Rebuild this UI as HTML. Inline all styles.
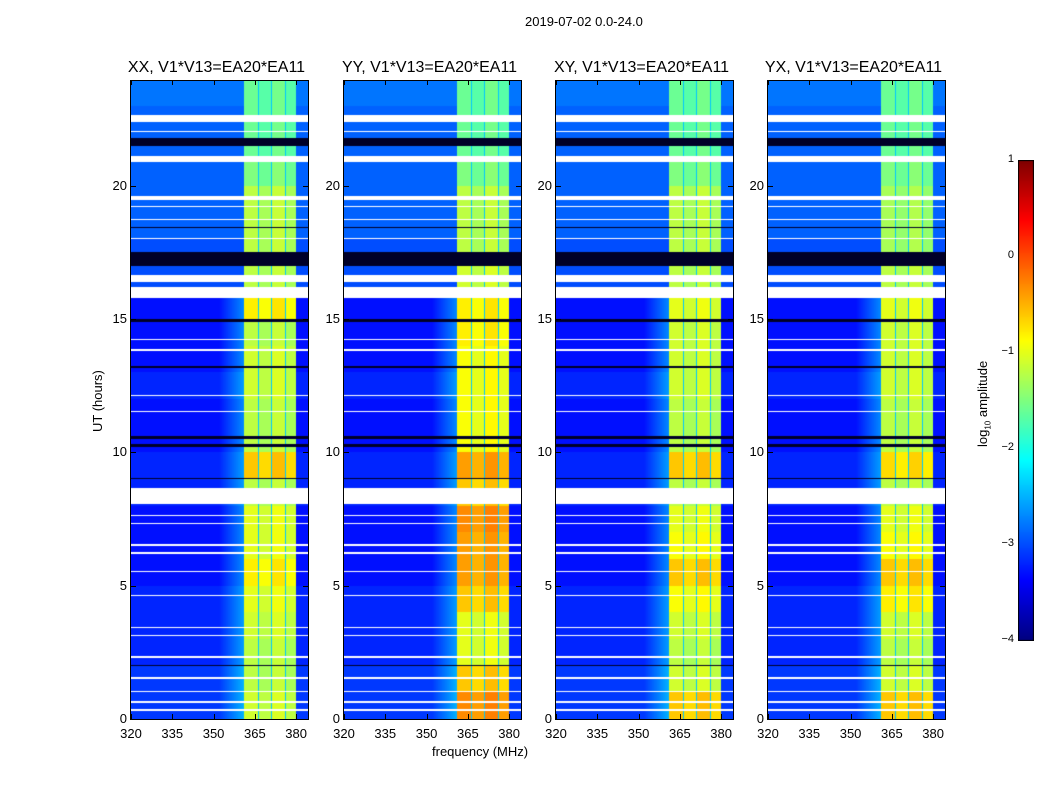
<!DOCTYPE html>
<html><head><meta charset="utf-8"><style>
body{margin:0;background:#fff;font-family:"Liberation Sans",sans-serif;}
#wrap{position:relative;width:1050px;height:800px;overflow:hidden;}
.t{position:absolute;font-size:13px;color:#000;white-space:nowrap}
.ptitle{position:absolute;font-size:16px;white-space:nowrap}
canvas{position:absolute}
</style></head><body>
<div id="wrap">
<div class="t" style="left:525px;top:14px">2019-07-02 0.0-24.0</div>
<div class="t" style="left:432px;top:744px">frequency (MHz)</div>
<div class="t" style="left:90px;top:432px;transform:rotate(-90deg);transform-origin:0 0">UT (hours)</div>
<div class="t" style="left:975px;top:447px;transform:rotate(-90deg);transform-origin:0 0">log<sub style="font-size:8px">10</sub> amplitude</div>
<canvas id="cb" width="16" height="481" style="left:1018px;top:160px"></canvas>
</div>
<script>
const panelTitles=["XX, V1*V13=EA20*EA11","YY, V1*V13=EA20*EA11","XY, V1*V13=EA20*EA11","YX, V1*V13=EA20*EA11"];
const panelLeft=[131,344,556,768];
const xTicks=[320,335,350,365,380];
const yTicks=[0,5,10,15,20];
const cbTicks=[1,0,-1,-2,-3,-4];
// hourly log10 amplitude of the high (361-380 MHz) band, per panel, hours 0..23
const bandXX=[-1.1,-1.2,-1.2,-1.1,-1.0,-0.8,-1.0,-1.0,-1.2,-0.6,-1.2,-1.2,-1.1,-1.1,-1.2,-0.8,-1.2,-1.2,-1.2,-1.2,-1.5,-1.6,-1.6,-1.6];
const bandYY=[-0.3,-0.6,-1.0,-1.0,-0.6,-0.4,-0.4,-0.3,-0.6,-0.4,-0.9,-0.9,-0.9,-0.9,-0.8,-0.8,-1.1,-1.2,-1.2,-1.2,-1.5,-1.6,-1.6,-1.6];
const bandXY=[-0.6,-1.1,-1.2,-1.1,-0.9,-0.6,-0.9,-1.0,-1.2,-0.6,-1.2,-1.2,-1.1,-1.1,-1.1,-1.0,-1.2,-1.2,-1.2,-1.2,-1.5,-1.6,-1.6,-1.6];
const bandYX=[-0.6,-1.1,-1.2,-1.1,-0.8,-0.6,-0.9,-1.0,-1.2,-0.7,-1.2,-1.2,-1.1,-1.1,-1.1,-1.0,-1.2,-1.3,-1.3,-1.3,-1.5,-1.6,-1.6,-1.6];
const bands=[bandXX,bandYY,bandXY,bandYX];
// hourly log10 amplitude of the low band (320-360 MHz)
const lowBand=[-3.1,-3.1,-3.2,-3.2,-3.2,-3.3,-3.3,-3.3,-3.2,-3.2,-3.3,-3.3,-3.2,-3.3,-3.3,-3.3,-3.0,-3.0,-2.9,-2.9,-2.9,-2.9,-2.9,-2.8];
// subband edges (MHz) and offsets
const subStart=[361,366.4,371.4,376.4];
const subEnd=[366,371,376,380];
const subOffset=[0,-0.1,0.05,-0.1];
// flagged (white) intervals in hours
const whiteGaps=[[8.05,8.65],[15.8,16.2],[16.4,16.65],[20.9,21.1],[22.4,22.65],[19.45,19.6],[0.3,0.36],[0.6,0.66],[1.0,1.06],[1.5,1.56],[2.3,2.36],[3.1,3.16],[3.4,3.46],[4.6,4.66],[5.5,5.56],[6.2,6.26],[6.5,6.56],[7.3,7.36],[7.6,7.66],[11.5,11.56],[12.1,12.16],[13.8,13.86],[14.2,14.26],[18.0,18.06],[18.7,18.76],[19.2,19.26],[22.0,22.06]];
// dark (black) rows in hours
const darkRows=[[17.0,17.5],[21.5,21.8],[10.2,10.3],[10.5,10.62],[13.15,13.25],[14.9,15.0],[18.4,18.45],[9.0,9.05],[2.0,2.04]];
const fMin=320,fMax=384.3,hMin=0,hMax=23.93,PW=177,PH=638,PT=81;
function jet(v){let t=Math.max(0,Math.min(1,(v+4)/5));
 const f=(a)=>Math.max(0,Math.min(1,1.5-Math.abs(4*t-a)));
 return [f(3)*255,f(2)*255,f(1)*255];}
const xs=f=>(f-fMin)/(fMax-fMin)*PW;
const ys=h=>PH-(h-hMin)/(hMax-hMin)*PH;
const wrap=document.getElementById('wrap');
function mk(tag,cls,style,txt){const e=document.createElement(tag);if(cls)e.className=cls;e.style.cssText=style;if(txt!==undefined)e.textContent=txt;wrap.appendChild(e);return e;}
function inIv(h,list){for(const [a,b] of list)if(h>=a&&h<b)return true;return false;}
panelTitles.forEach((title,p)=>{
 const L=panelLeft[p];
 const c=document.createElement('canvas');c.width=PW;c.height=PH;c.style.left=L+'px';c.style.top=PT+'px';
 
 
 wrap.appendChild(c);
 const g=c.getContext('2d');const img=g.createImageData(PW,PH);
 const band=bands[p];
 for(let y=0;y<PH;y++){const h=hMax-(y+0.5)/PH*(hMax-hMin);const hi=Math.min(23,Math.floor(h));
  const white=inIv(h,whiteGaps),dark=inIv(h,darkRows);
  for(let x=0;x<PW;x++){const f=fMin+(x+0.5)/PW*(fMax-fMin);let v=lowBand[hi];
   if(f>352&&f<361&&h<16)v+= (f-352)/9*0.6;
   for(let s=0;s<4;s++){if(f>=subStart[s]&&f<subEnd[s])v=band[hi]+subOffset[s];}
   if((f>=366&&f<366.4)||(f>=371&&f<371.4)||(f>=376&&f<376.4))v=-2.4;
   let col=jet(v);if(white)col=[255,255,255];else if(dark)col=[0,0,40];
   const i=(y*PW+x)*4;img.data[i]=col[0];img.data[i+1]=col[1];img.data[i+2]=col[2];img.data[i+3]=255;}}
 g.putImageData(img,0,0);
 const fr=mk('div','',`position:absolute;left:${L-1}px;top:${PT-1}px;width:${PW}px;height:${PH}px;border:1px solid #000`);
 
 
 const tt=mk('div','ptitle',`left:${L+PW/2-3}px;top:59px;transform:translateX(-50%)`,title);
 
 
 xTicks.forEach(t=>{const x=L+xs(t);
  const k=mk('div','t',`left:${x}px;top:726px;transform:translateX(-50%)`,String(t));
  
  
  mk('div','',`position:absolute;left:${x}px;top:${PT+PH-5}px;width:1px;height:5px;background:#000`);
  mk('div','',`position:absolute;left:${x}px;top:${PT}px;width:1px;height:4px;background:#000`);});
 yTicks.forEach(t=>{const y=PT+ys(t);
  const k=mk('div','t',`left:${L-4}px;top:${y-8}px;transform:translateX(-100%)`,String(t));
  
  
  mk('div','',`position:absolute;left:${L}px;top:${y}px;width:5px;height:1px;background:#000`);
  mk('div','',`position:absolute;left:${L+PW-5}px;top:${y}px;width:5px;height:1px;background:#000`);});
});
// colorbar
const cb=document.getElementById('cb').getContext('2d');
for(let y=0;y<481;y++){const v=1-y/480*5;const c=jet(v);cb.fillStyle=`rgb(${c[0]|0},${c[1]|0},${c[2]|0})`;cb.fillRect(0,y,16,1);}
cb.strokeStyle='#000';cb.strokeRect(0.5,0.5,15,480);
cbTicks.forEach(t=>{const y=160+(1-t)/5*480;
 const k=mk('div','t',`left:1014px;top:${y-7}px;font-size:11px;transform:translateX(-100%)`,t<0?'\u2212'+(-t):String(t));
 
 });
</script>
</body></html>
